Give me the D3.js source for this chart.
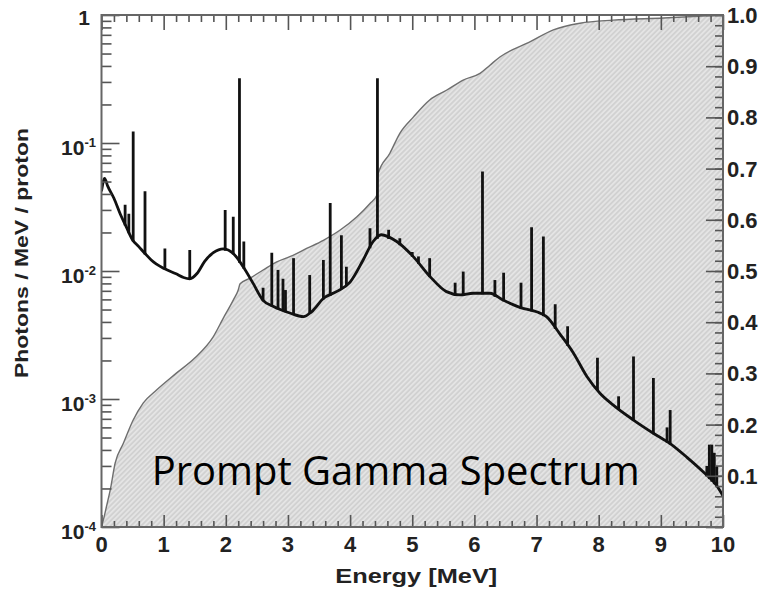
<!DOCTYPE html>
<html>
<head>
<meta charset="utf-8">
<script src="https://cdn.jsdelivr.net/npm/d3@7/dist/d3.min.js"></script>
<style>
  html, body { margin: 0; padding: 0; background: #fff; }
  svg { display: block; }
</style>
</head>
<body>
<svg id="chart" width="764" height="595"></svg>
<script>
// Continuum of the prompt gamma spectrum (photons / MeV / proton)
const contE = [0, 0.05, 0.1, 0.2, 0.3, 0.4, 0.5, 0.6, 0.7, 0.8, 1.0, 1.2, 1.32, 1.42, 1.54, 1.66, 1.8, 1.96, 2.12, 2.28, 2.44, 2.6, 2.76, 3.03, 3.25, 3.38, 3.57, 3.78, 4.0, 4.21, 4.37, 4.5, 4.75, 5.02, 5.29, 5.55, 5.77, 5.98, 6.25, 6.47, 6.73, 7.0, 7.16, 7.38, 7.59, 7.81, 8.02, 8.23, 8.56, 8.88, 9.15, 9.42, 9.68, 9.9, 10.0];
const contV = [0.042, 0.053, 0.046, 0.037, 0.028, 0.022, 0.0175, 0.0155, 0.0137, 0.0122, 0.0105, 0.0095, 0.0089, 0.0087, 0.0096, 0.0119, 0.0139, 0.0149, 0.0137, 0.0108, 0.0080, 0.0059, 0.0053, 0.0047, 0.0044, 0.0048, 0.0061, 0.0069, 0.0082, 0.0122, 0.0170, 0.0192, 0.0170, 0.0129, 0.0090, 0.0069, 0.0065, 0.0067, 0.0067, 0.0059, 0.0052, 0.0048, 0.0044, 0.0032, 0.0023, 0.0015, 0.00111, 0.0009, 0.000685, 0.00054, 0.000448, 0.00035, 0.00027, 0.00021, 0.000175];

// Discrete gamma lines: energy (MeV) and peak height
const lineE = [0.38, 0.44, 0.51, 0.70, 1.02, 1.42, 1.99, 2.12, 2.22, 2.29, 2.60, 2.74, 2.84, 2.92, 2.96, 3.09, 3.35, 3.57, 3.68, 3.86, 3.94, 4.32, 4.44, 4.62, 4.80, 5.00, 5.10, 5.28, 5.69, 5.82, 6.13, 6.33, 6.47, 6.75, 6.92, 7.11, 7.30, 7.50, 7.98, 8.32, 8.56, 8.88, 9.10, 9.15, 9.74, 9.78, 9.82, 9.86, 9.90];
const lineV = [0.033, 0.028, 0.123, 0.042, 0.015, 0.0146, 0.030, 0.0265, 0.32, 0.017, 0.0074, 0.0139, 0.0102, 0.0087, 0.0071, 0.0126, 0.0093, 0.0122, 0.034, 0.019, 0.0108, 0.0216, 0.32, 0.021, 0.018, 0.0141, 0.013, 0.0126, 0.0081, 0.0099, 0.060, 0.0085, 0.0097, 0.0081, 0.022, 0.0186, 0.0055, 0.0037, 0.0021, 0.00105, 0.00215, 0.00146, 0.0006, 0.00082, 0.0003, 0.00044, 0.00044, 0.00038, 0.0003];

// Cumulative fraction of emitted photons (right axis)
const cumE = [0, 0.03, 0.08, 0.14, 0.22, 0.35, 0.51, 0.67, 0.89, 1.2, 1.5, 1.8, 1.96, 2.12, 2.2, 2.23, 2.39, 2.6, 2.82, 3.03, 3.3, 3.57, 3.84, 4.11, 4.32, 4.43, 4.45, 4.64, 4.8, 5.02, 5.28, 5.55, 5.82, 6.09, 6.25, 6.41, 6.9, 7.27, 7.7, 8.23, 9.04, 10];
const cumV = [0, 0.014, 0.04, 0.072, 0.125, 0.163, 0.209, 0.242, 0.268, 0.30, 0.33, 0.372, 0.408, 0.443, 0.463, 0.475, 0.486, 0.502, 0.518, 0.528, 0.544, 0.56, 0.58, 0.606, 0.632, 0.648, 0.69, 0.73, 0.769, 0.801, 0.834, 0.853, 0.873, 0.886, 0.902, 0.918, 0.948, 0.971, 0.984, 0.99, 0.994, 1.0];

// Tick labels
const xTicks = [0, 1, 2, 3, 4, 5, 6, 7, 8, 9, 10];
const leftExp = [-4, -3, -2, -1];
const rightTicks = ["0.1", "0.2", "0.3", "0.4", "0.5", "0.6", "0.7", "0.8", "0.9", "1.0"];

const svg = d3.select("#chart");
const X0 = 101.5, X1 = 723, Y0 = 15, Y1 = 527;

const x = d3.scaleLinear().domain([0, 10]).range([X0, X1]);
const yL = d3.scaleLog().domain([1e-4, 1]).range([Y1, Y0]);
const yR = d3.scaleLinear().domain([0, 1]).range([Y1, Y0]);

// Hatch pattern for the cumulative area
const defs = svg.append("defs");
const pat = defs.append("pattern")
  .attr("id", "hatch").attr("patternUnits", "userSpaceOnUse")
  .attr("width", 3.6).attr("height", 3.6)
  .attr("patternTransform", "rotate(45)");
pat.append("rect").attr("width", 3.6).attr("height", 3.6).attr("fill", "#d1d1d1");
pat.append("line").attr("x1", 1.8).attr("y1", 0).attr("x2", 1.8).attr("y2", 3.6)
  .attr("stroke", "#e8e8e8").attr("stroke-width", 1.5);

defs.append("clipPath").attr("id", "plotClip")
  .append("rect").attr("x", X0).attr("y", Y0).attr("width", X1 - X0).attr("height", Y1 - Y0);

const plot = svg.append("g").attr("clip-path", "url(#plotClip)");

const cum = cumE.map((e, i) => ({ e, v: cumV[i] }));
plot.append("path")
  .datum(cum)
  .attr("fill", "url(#hatch)")
  .attr("d", d3.area().x(d => x(d.e)).y0(yR(0)).y1(d => yR(d.v)).curve(d3.curveMonotoneX));
plot.append("path")
  .datum(cum)
  .attr("fill", "none").attr("stroke", "#6f6f6f").attr("stroke-width", 1.4)
  .attr("d", d3.line().x(d => x(d.e)).y(d => yR(d.v)).curve(d3.curveMonotoneX));

// Continuum
const cont = contE.map((e, i) => ({ e, v: contV[i] }));
plot.append("path")
  .datum(cont)
  .attr("fill", "none").attr("stroke", "#111").attr("stroke-width", 2.8)
  .attr("stroke-linejoin", "round")
  .attr("d", d3.line().x(d => x(d.e)).y(d => yL(d.v)).curve(d3.curveMonotoneX));

// Gamma lines rise from the continuum
const logCont = d3.scaleLinear().domain(contE).range(contV.map(Math.log10));
plot.append("g").selectAll("line")
  .data(lineE.map((e, i) => ({ e, v: lineV[i] })))
  .join("line")
  .attr("x1", d => x(d.e)).attr("x2", d => x(d.e))
  .attr("y1", d => yL(Math.pow(10, logCont(d.e))) + 1)
  .attr("y2", d => yL(d.v))
  .attr("stroke", "#111").attr("stroke-width", 2.8);

// Title inside plot
svg.append("text")
  .attr("x", 151.7).attr("y", 485)
  .attr("textLength", 488).attr("lengthAdjust", "spacingAndGlyphs")
  .style("font-family", "'Open Sans', 'Noto Sans', sans-serif")
  .style("font-size", "41px").attr("fill", "#000")
  .text("Prompt Gamma Spectrum");

// Axes (ticks point inward)
const axisStyle = g => {
  g.selectAll(".domain").remove();
  g.selectAll("line").attr("stroke", "#555").attr("stroke-width", 1.6);
  g.selectAll("text").remove();
};
const minorX = d3.range(0, 10.001, 0.2).filter(v => Math.abs(v - Math.round(v)) > 1e-6);
svg.append("g").attr("transform", `translate(0,${Y1})`)
  .call(d3.axisBottom(x).tickValues(xTicks).tickSize(-12).tickFormat("")).call(axisStyle);
svg.append("g").attr("transform", `translate(0,${Y1})`)
  .call(d3.axisBottom(x).tickValues(minorX).tickSize(-6).tickFormat("")).call(axisStyle);
svg.append("g").attr("transform", `translate(0,${Y0})`)
  .call(d3.axisTop(x).tickValues(xTicks).tickSize(-15).tickFormat("")).call(axisStyle);
svg.append("g").attr("transform", `translate(0,${Y0})`)
  .call(d3.axisTop(x).tickValues(minorX).tickSize(-7).tickFormat("")).call(axisStyle);

const majorL = [1e-4, 1e-3, 1e-2, 1e-1, 1];
const minorL = [];
[1e-4, 1e-3, 1e-2, 1e-1].forEach(d => { for (let k = 2; k <= 9; k++) minorL.push(d * k); });
svg.append("g").attr("transform", `translate(${X0},0)`)
  .call(d3.axisLeft(yL).tickValues(majorL).tickSize(-18).tickFormat("")).call(axisStyle);
svg.append("g").attr("transform", `translate(${X0},0)`)
  .call(d3.axisLeft(yL).tickValues(minorL).tickSize(-10).tickFormat("")).call(axisStyle);

const majorR = d3.range(0, 1.0001, 0.1);
const minorR = d3.range(0, 1.0001, 0.02);
svg.append("g").attr("transform", `translate(${X1},0)`)
  .call(d3.axisRight(yR).tickValues(majorR).tickSize(-17).tickFormat("")).call(axisStyle);
svg.append("g").attr("transform", `translate(${X1},0)`)
  .call(d3.axisRight(yR).tickValues(minorR).tickSize(-8).tickFormat("")).call(axisStyle);

// Frame
svg.append("rect")
  .attr("x", X0).attr("y", Y0).attr("width", X1 - X0).attr("height", Y1 - Y0)
  .attr("fill", "none").attr("stroke", "#666").attr("stroke-width", 2);

// Tick labels
const labelFont = "'Liberation Sans', Arial, Helvetica, sans-serif";
const lab = svg.append("g")
  .style("font-family", labelFont).style("font-weight", "bold").attr("fill", "#222");

lab.selectAll("text.xt").data(xTicks).join("text")
  .attr("class", "xt")
  .attr("x", d => x(d)).attr("y", 552)
  .attr("text-anchor", "middle").style("font-size", "22px")
  .text(d => d);

lab.selectAll("text.rt").data(rightTicks).join("text")
  .attr("class", "rt")
  .attr("x", 727).attr("y", d => yR(+d) + 8)
  .style("font-size", "22px")
  .text(d => d);

lab.append("text")
  .attr("x", 90).attr("y", yL(1) + 10)
  .attr("text-anchor", "end").style("font-size", "21px")
  .text("1");

leftExp.forEach(p => {
  const t = lab.append("text")
    .attr("x", 96).attr("y", yL(Math.pow(10, p)) + 12)
    .attr("text-anchor", "end").style("font-size", "21px");
  t.append("tspan").text("10");
  t.append("tspan").attr("dy", -8).style("font-size", "13px").text("-" + Math.abs(p));
});

// Axis titles
lab.append("text")
  .attr("x", (X0 + X1) / 2 + 4).attr("y", 583)
  .attr("text-anchor", "middle").style("font-size", "21px")
  .attr("textLength", 162).attr("lengthAdjust", "spacingAndGlyphs")
  .text("Energy [MeV]");

lab.append("text")
  .attr("transform", "translate(28,253) rotate(-90)")
  .attr("text-anchor", "middle").style("font-size", "18px")
  .attr("textLength", 250).attr("lengthAdjust", "spacingAndGlyphs")
  .text("Photons / MeV / proton");
</script>
</body>
</html>
